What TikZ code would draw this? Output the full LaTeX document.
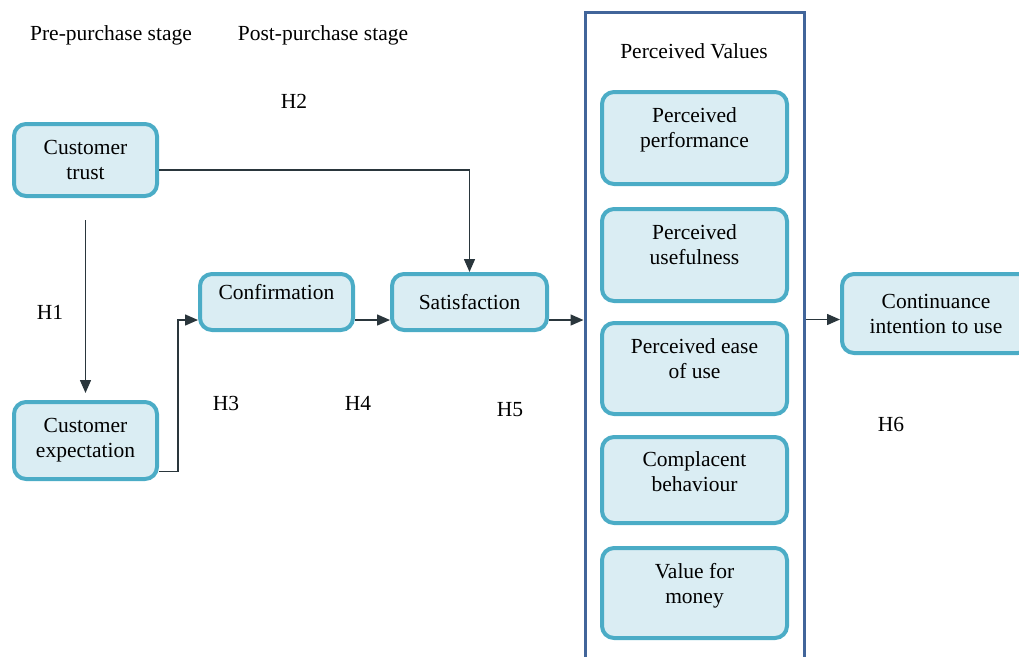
\documentclass[tikz,border=0pt]{standalone}
\usepackage{fontspec}
\setmainfont{Liberation Serif}
\usetikzlibrary{arrows.meta}
\definecolor{boxfill}{HTML}{DAEDF3}
\definecolor{boxline}{HTML}{4BACC6}
\definecolor{frameline}{HTML}{41659A}
\definecolor{arrowline}{HTML}{2A363C}
\begin{document}
\begin{tikzpicture}[x=1pt, y=-1pt,
    font=\fontsize{21.5}{25}\selectfont,
    box/.style={rounded corners=12pt, draw=boxline, line width=4pt, fill=boxfill, align=center, inner sep=2pt},
    valbox/.style={box, minimum width=185pt},
    flow/.style={-{Triangle[length=13pt, width=11pt]}, draw=arrowline, line width=1.5pt},
    hyp/.style={inner sep=0pt}]
    \clip (0,0) rectangle (1019,656);

    \node (pre)  at (111, 35) {Pre-purchase stage};
    \node (post) at (323, 35) {Post-purchase stage};

    \node (trust)  at (85.5, 160)   [box, minimum width=143pt, minimum height=72pt] {Customer\\trust};
    \node (expect) at (85.5, 440.5) [box, minimum width=143pt, minimum height=77pt] {Customer\\expectation};
    \node (conf)   at (276.5, 302)  [box, minimum width=153pt, minimum height=56pt] {Confirmation\\[-5pt]\mbox{}};
    \node (sat)    at (469.5, 302)  [box, minimum width=155pt, minimum height=56pt] {Satisfaction};
    \node (cont)   at (936, 313.5)  [box, minimum width=188pt, minimum height=79pt] {Continuance\\intention to use};

    % perceived values frame
    \node (values) at (694.5, 356) [draw=frameline, line width=3pt, minimum width=219pt, minimum height=688pt] {};
    \node (title)  at (694, 51) {Perceived Values};
    \node (perf)   at (694.5, 138)   [valbox, minimum height=92pt] {Perceived\\performance\\[-5pt]\mbox{}};
    \node (useful) at (694.5, 255)   [valbox, minimum height=92pt] {Perceived\\usefulness\\[-5pt]\mbox{}};
    \node (ease)   at (694.5, 368.5) [valbox, minimum height=91pt] {Perceived ease\\of use\\[-5pt]\mbox{}};
    \node (compl)  at (694.5, 480)   [valbox, minimum height=86pt] {Complacent\\behaviour\\[-8pt]\mbox{}};
    \node (money)  at (694.5, 593)   [valbox, minimum height=90pt] {Value for\\money\\[-5pt]\mbox{}};

    % hypotheses
    \node[hyp] (h1) at (50, 312)  {H1};
    \node[hyp] (h2) at (294, 101) {H2};
    \node[hyp] (h3) at (226, 403) {H3};
    \node[hyp] (h4) at (358, 403) {H4};
    \node[hyp] (h5) at (510, 410) {H5};
    \node[hyp] (h6) at (891, 424) {H6};

    % connectors
    \coordinate (t1) at ([yshift=-10pt]trust.east);
    \coordinate (e1) at ([yshift=-31pt]expect.east);
    \coordinate (c1) at ([yshift=-18pt]conf.west);
    \coordinate (c2) at ([yshift=-18pt]conf.east);
    \coordinate (s1) at ([yshift=-18pt]sat.west);
    \coordinate (s2) at ([yshift=-18pt]sat.east);
    \coordinate (n1) at ([yshift=-6pt]cont.west);

    \draw[flow, shorten >=7pt] ([yshift=-22pt]trust.south) -- (expect.north);
    \draw[flow] (t1) -| (sat.north);
    \draw[flow] (e1) -- ++(19,0) |- (c1);
    \draw[flow] (c2) -- (s1);
    \draw[flow] (s2) -- (s2 -| values.west);
    \draw[flow] (n1 -| values.east) -- (n1);
\end{tikzpicture}
\end{document}
